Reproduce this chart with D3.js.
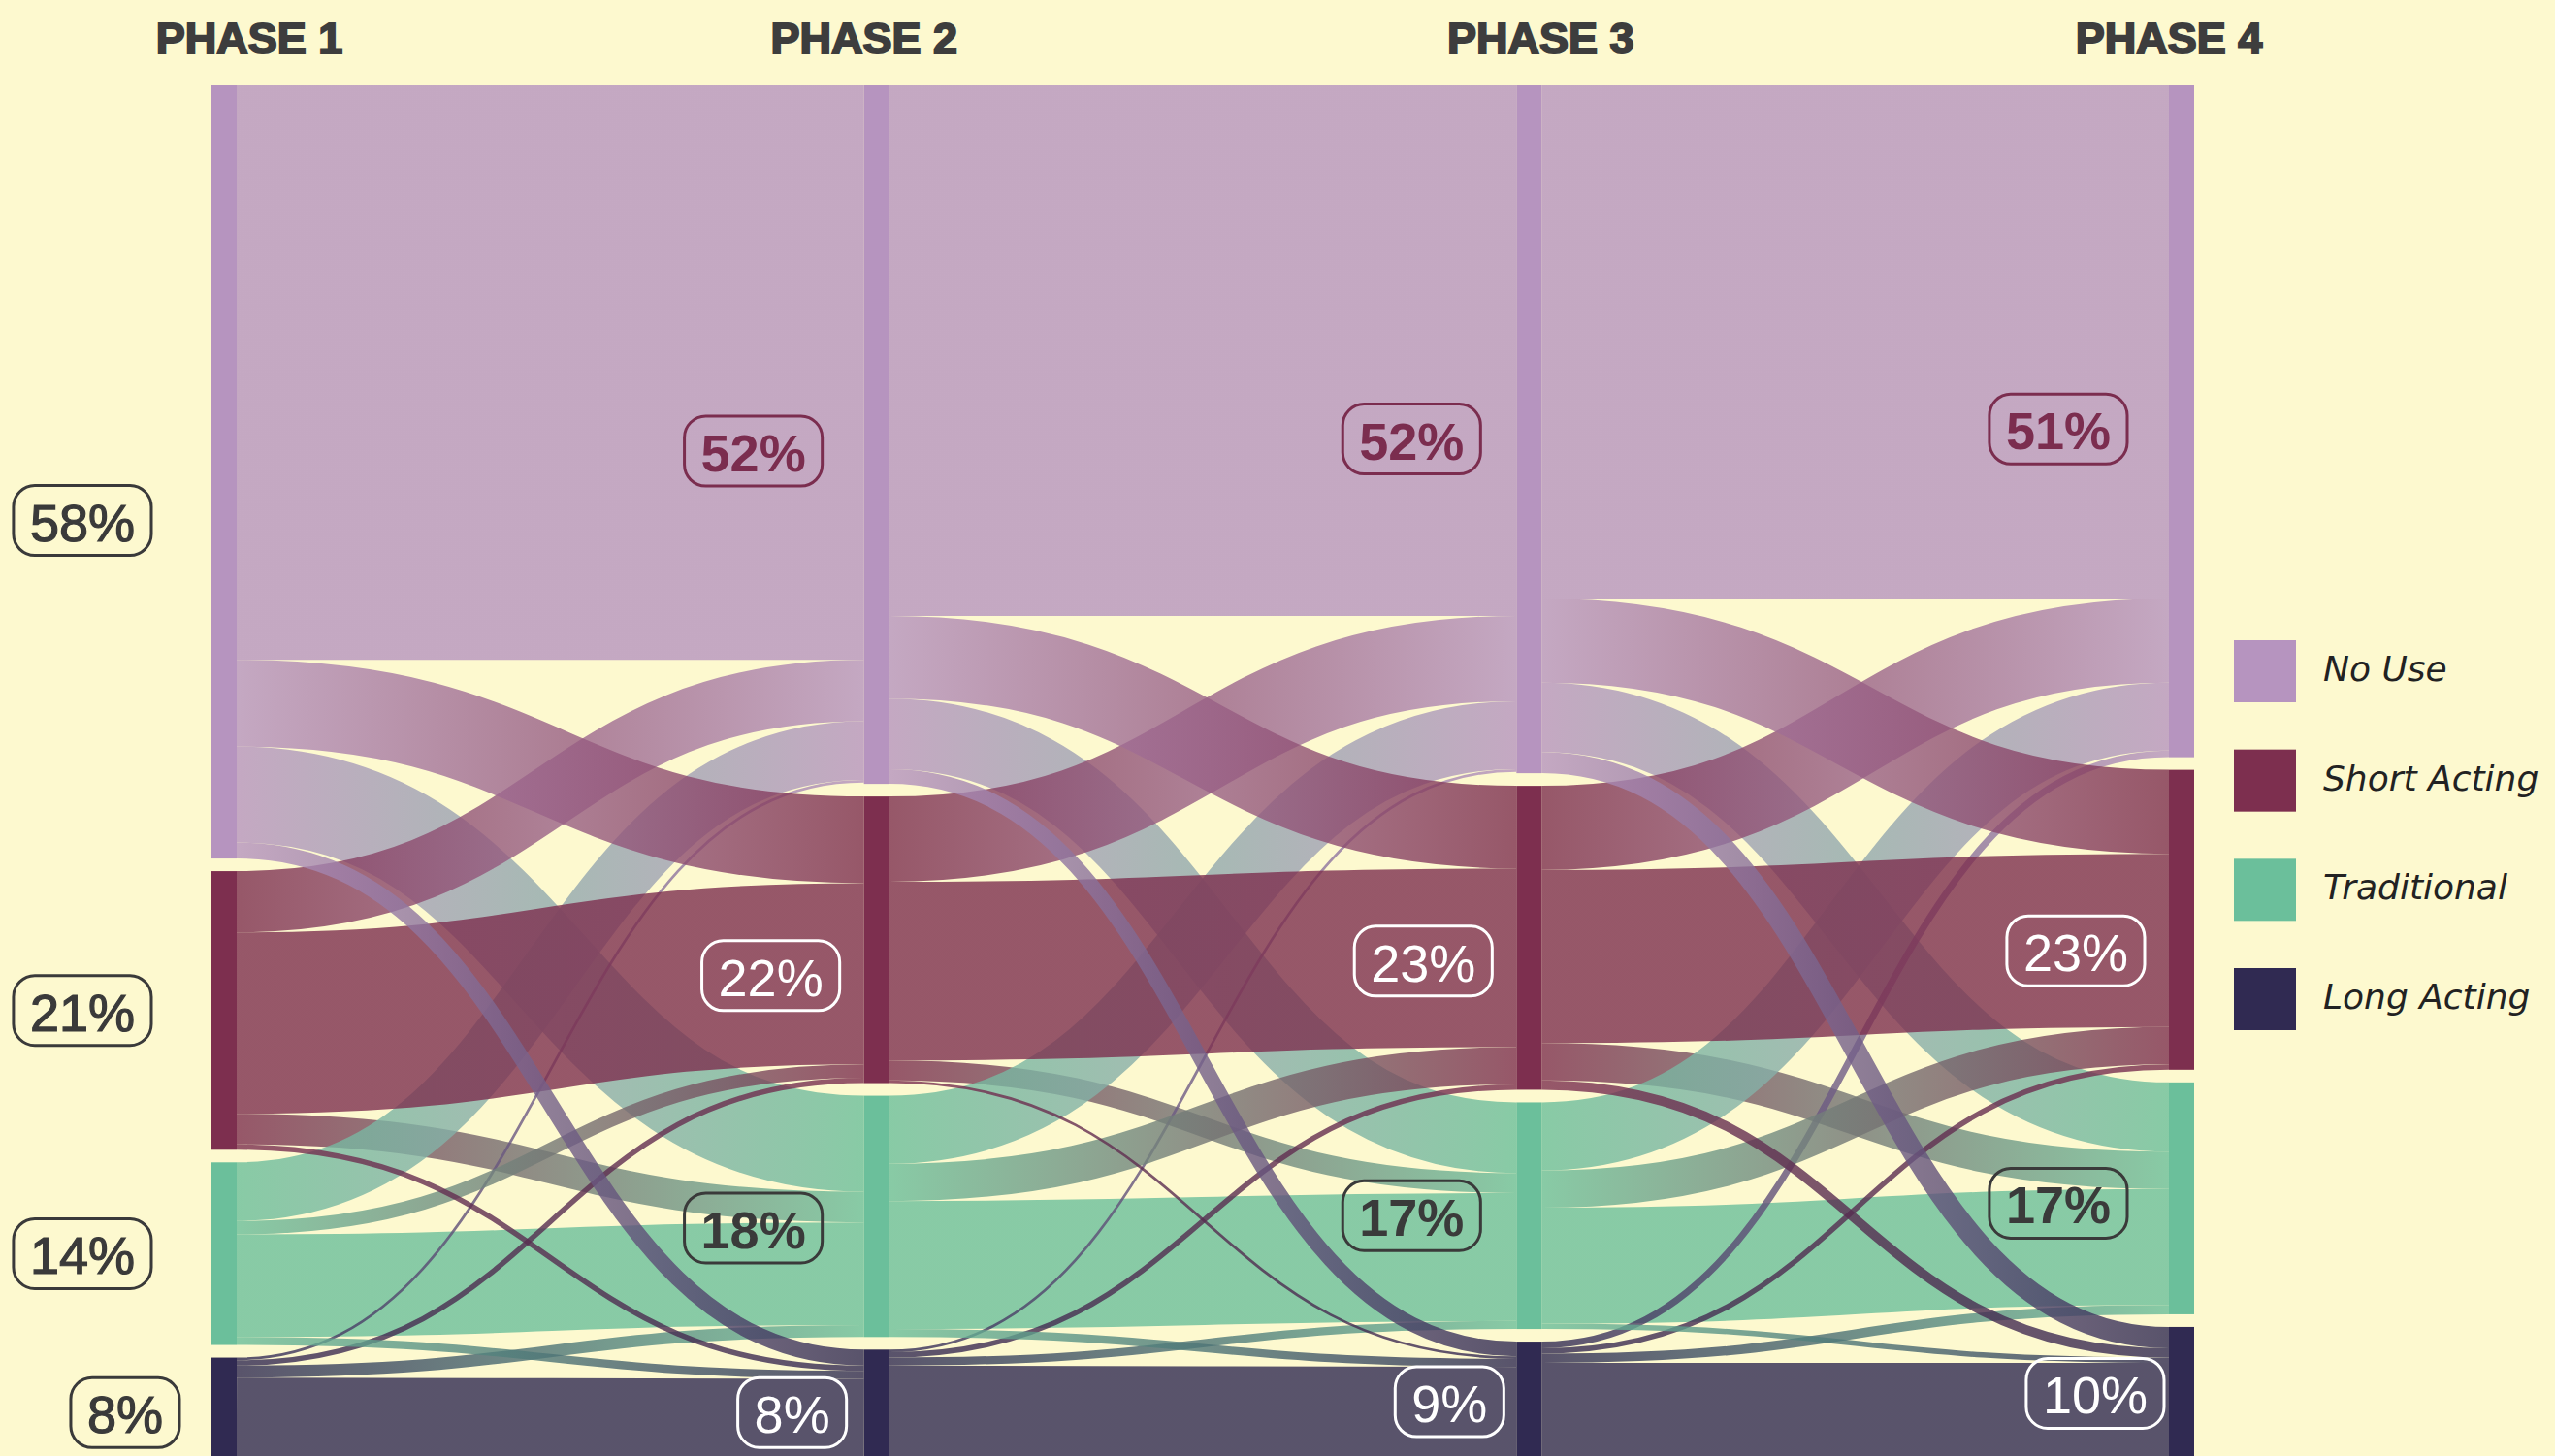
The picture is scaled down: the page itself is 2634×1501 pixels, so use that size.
<!DOCTYPE html>
<html><head><meta charset="utf-8">
<script src="https://cdn.jsdelivr.net/npm/d3@7"></script>
<style>html,body{margin:0;padding:0;background:#fdf9cf;overflow:hidden}</style>
</head><body>
<svg id="chart" width="2634" height="1501"></svg>
<script>
// ---------- DATA ----------
const phases = ["PHASE 1", "PHASE 2", "PHASE 3", "PHASE 4"];
const categories = ["No Use", "Short Acting", "Traditional", "Long Acting"];
// flows between consecutive phases (% of respondents); rows = source category, cols = target category
const flows12 = [[43.1, 6.5, 7.2, 1.2], [4.6, 13.6, 2.3, 0.4], [4.4, 1.0, 7.7, 0.6], [0.2, 0.4, 0.9, 5.9]];
const flows23 = [[39.8, 6.2, 5.3, 1.1], [6.4, 13.4, 1.5, 0.2], [5.1, 2.8, 9.6, 0.6], [0.2, 0.4, 0.6, 6.9]];
const flows34 = [[38.5, 6.3, 5.2, 1.6], [6.3, 13.0, 2.8, 0.7], [5.1, 2.8, 8.7, 0.4], [0.5, 0.4, 0.7, 7.2]];
const shareLabels = [["58%", "21%", "14%", "8%"], ["52%", "22%", "18%", "8%"], ["52%", "23%", "17%", "9%"], ["51%", "23%", "17%", "10%"]];

// ---------- STYLE / LAYOUT ----------
const W = 2634, H = 1501;
const colors = ["#b694bf", "#7d2f4f", "#6bbf9b", "#302a52"];
const labelFill = ["#7b2d4f", "#ffffff", "#3a3a3a", "#ffffff"];
const labelWeight = ["bold", "normal", "bold", "normal"];
const labelRightGap = [43, 25, 43, 13];
// painting order of link groups by target category (Traditional, No Use, Short, Long)
const targetPaintRank = [1, 2, 0, 3];
// small label nudges (px) [phase][category] as [dx, dy]
const labelNudge = [
  [[0, 50], [0, 0], [0, 0], [29, 6]],
  [[0, 17], [0, 37], [0, 12], [-5, 10]],
  [[6, 10], [0, 24], [6, 0], [0, 3]],
  [[0, 8], [0, 32], [0, 5], [8, 2]]
];
const phaseLabelDx = [39, 0, 25, 0];
const nodeW = 26, nodePad = 13, yTop = 88, yBottom = 1504;

const svg = d3.select("#chart");
svg.append("rect").attr("width", W).attr("height", H).attr("fill", "#fdf9cf");
const defs = svg.append("defs");

// ---------- SANKEY LAYOUT (fixed order) ----------
const allFlows = [flows12, flows23, flows34];
const nodes = [];
phases.forEach((p, pi) => categories.forEach((c, ci) => nodes.push({phase: pi, cat: ci, id: pi * 4 + ci, sourceLinks: [], targetLinks: []})));
const links = [];
allFlows.forEach((m, fi) => m.forEach((row, si) => row.forEach((v, ti) => {
  const l = {source: nodes[fi * 4 + si], target: nodes[(fi + 1) * 4 + ti], value: v};
  links.push(l); l.source.sourceLinks.push(l); l.target.targetLinks.push(l);
})));
nodes.forEach(n => {
  n.value = Math.max(d3.sum(n.sourceLinks, l => l.value), d3.sum(n.targetLinks, l => l.value));
});
const x = d3.scaleLinear().domain([0, phases.length - 1]).range([218, 2236]);
const colTotals = phases.map((p, pi) => d3.sum(nodes.filter(n => n.phase === pi), n => n.value));
const ky = (yBottom - yTop - nodePad * (categories.length - 1)) / d3.max(colTotals);
const y = d3.scaleLinear().domain([0, 1]).range([0, ky]);
phases.forEach((p, pi) => {
  let yy = yTop;
  nodes.filter(n => n.phase === pi).forEach(n => {
    n.x0 = x(pi); n.x1 = n.x0 + nodeW;
    n.y0 = yy; n.y1 = yy + y(n.value); yy = n.y1 + nodePad;
  });
});
nodes.forEach(n => {
  let ys = n.y0;
  n.sourceLinks.sort((a, b) => a.target.cat - b.target.cat).forEach(l => { l.width = y(l.value); l.y0 = ys + l.width / 2; ys += l.width; });
  let yt = n.y0;
  n.targetLinks.sort((a, b) => a.source.cat - b.source.cat).forEach(l => { l.y1 = yt + l.width / 2; yt += l.width; });
});

// ---------- LINKS ----------
const drawOrder = links.slice().sort((a, b) =>
  (targetPaintRank[a.target.cat] - targetPaintRank[b.target.cat]) || (a.source.cat - b.source.cat) || (a.source.phase - b.source.phase));
const linkGen = d3.linkHorizontal().x(d => d[0]).y(d => d[1]);
const gLinks = svg.append("g").attr("fill", "none").attr("stroke-opacity", 0.8);
drawOrder.forEach((l, i) => {
  const gid = "lg" + i;
  const grad = defs.append("linearGradient").attr("id", gid).attr("gradientUnits", "userSpaceOnUse")
    .attr("x1", l.source.x1).attr("x2", l.target.x0).attr("y1", 0).attr("y2", 0);
  grad.append("stop").attr("offset", "0%").attr("stop-color", colors[l.source.cat]);
  grad.append("stop").attr("offset", "100%").attr("stop-color", colors[l.target.cat]);
  gLinks.append("path")
    .attr("d", linkGen({source: [l.source.x1, l.y0], target: [l.target.x0, l.y1]}))
    .attr("stroke", `url(#${gid})`)
    .attr("stroke-width", Math.max(1, l.width));
});

// ---------- NODES ----------
svg.append("g").selectAll("rect").data(nodes).join("rect")
  .attr("x", d => d.x0).attr("y", d => d.y0)
  .attr("width", nodeW).attr("height", d => d.y1 - d.y0)
  .attr("fill", d => colors[d.cat]);

// ---------- PHASE TITLES ----------
svg.append("g").selectAll("text").data(phases).join("text")
  .attr("x", (d, i) => x(i) + phaseLabelDx[i]).attr("y", 55)
  .attr("text-anchor", "middle")
  .attr("font-family", "Liberation Sans, Arial, sans-serif")
  .attr("font-weight", "bold").attr("font-size", 45)
  .attr("fill", "#3d3d3d").attr("stroke", "#3d3d3d").attr("stroke-width", 2)
  .text(d => d);

// ---------- SHARE LABELS ----------
const gLab = svg.append("g");
nodes.forEach(n => {
  const isFirst = n.phase === 0;
  const fill = isFirst ? "#3a3a3a" : labelFill[n.cat];
  const weight = isFirst ? "normal" : labelWeight[n.cat];
  const [ndx, ndy] = labelNudge[n.phase][n.cat];
  const g = gLab.append("g");
  const cy = (n.y0 + Math.min(n.y1, H)) / 2 + ndy;
  const t = g.append("text")
    .attr("font-family", "Liberation Sans, Arial, sans-serif")
    .attr("font-size", 54).attr("font-weight", weight)
    .attr("fill", fill)
    .attr("stroke", isFirst ? fill : "none").attr("stroke-width", isFirst ? 1.2 : 0)
    .attr("text-anchor", "middle").attr("dominant-baseline", "central")
    .text(shareLabels[n.phase][n.cat]);
  const bb = t.node().getBBox();
  const bw = bb.width + 34, bh = 72;
  const right = (isFirst ? 156 : n.x0 - labelRightGap[n.cat]) + ndx;
  const cx = right - bw / 2;
  t.attr("x", cx).attr("y", cy + 2);
  g.insert("rect", "text")
    .attr("x", right - bw).attr("y", cy - bh / 2)
    .attr("width", bw).attr("height", bh)
    .attr("rx", 22).attr("ry", 22)
    .attr("fill", "none").attr("stroke", fill).attr("stroke-width", 3);
});

// ---------- LEGEND ----------
const lg = svg.append("g");
const ly = d3.scaleLinear().domain([0, 3]).range([660, 998]);
categories.forEach((c, i) => {
  lg.append("rect").attr("x", 2303).attr("y", ly(i)).attr("width", 64).attr("height", 64).attr("fill", colors[i]);
  lg.append("text").attr("x", 2395).attr("y", ly(i) + 42)
    .attr("font-family", "DejaVu Sans, sans-serif").attr("font-style", "italic")
    .attr("font-size", 36).attr("fill", "#222").text(c);
});
</script>
</body></html>
